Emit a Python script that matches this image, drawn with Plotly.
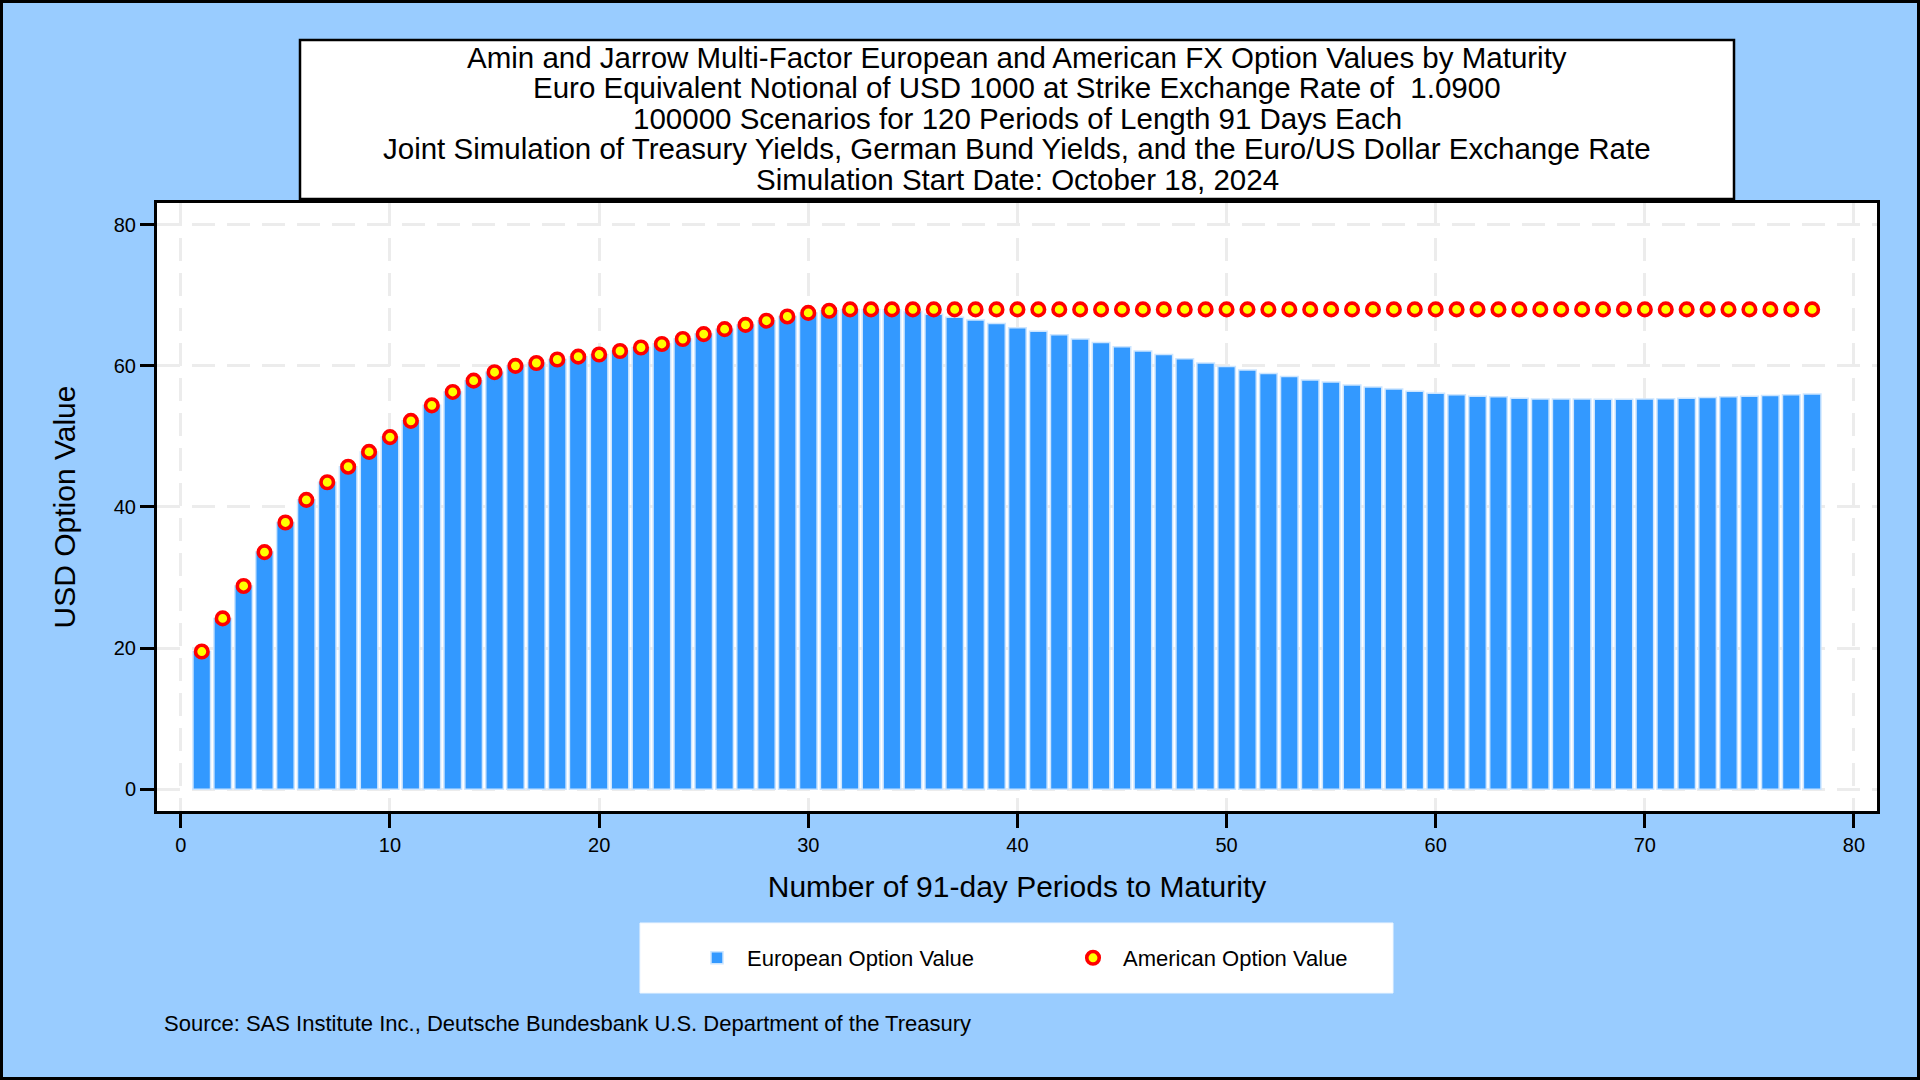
import plotly.graph_objects as go

# ---------------- data ----------------
periods = list(range(1, 79))

american_values = [
    19.5, 24.2, 28.8, 33.6, 37.8, 41.0, 43.5, 45.7, 47.8, 49.9,
    52.2, 54.4, 56.3, 57.9, 59.1, 60.0, 60.4, 60.9, 61.3, 61.6,
    62.1, 62.6, 63.1, 63.8, 64.5, 65.2, 65.8, 66.4, 67.0, 67.5,
    67.8, 68.0, 68.0, 68.0, 68.0, 68.0, 68.0, 68.0, 68.0, 68.0,
    68.0, 68.0, 68.0, 68.0, 68.0, 68.0, 68.0, 68.0, 68.0, 68.0,
    68.0, 68.0, 68.0, 68.0, 68.0, 68.0, 68.0, 68.0, 68.0, 68.0,
    68.0, 68.0, 68.0, 68.0, 68.0, 68.0, 68.0, 68.0, 68.0, 68.0,
    68.0, 68.0, 68.0, 68.0, 68.0, 68.0, 68.0, 68.0,
]

european_values = [
    19.5, 24.2, 28.8, 33.6, 37.8, 41.0, 43.5, 45.7, 47.8, 49.9,
    52.2, 54.4, 56.3, 57.9, 59.1, 60.0, 60.4, 60.9, 61.3, 61.6,
    62.1, 62.6, 63.1, 63.8, 64.5, 65.2, 65.8, 66.4, 67.0, 67.5,
    67.8, 68.0, 68.0, 67.9, 67.7, 67.3, 66.9, 66.5, 66.0, 65.4,
    64.9, 64.4, 63.8, 63.3, 62.7, 62.1, 61.6, 61.0, 60.4, 59.9,
    59.4, 58.9, 58.5, 58.0, 57.7, 57.3, 57.0, 56.7, 56.4, 56.1,
    55.9, 55.7, 55.6, 55.4, 55.3, 55.3, 55.3, 55.25, 55.25, 55.3,
    55.35, 55.4, 55.5, 55.6, 55.7, 55.8, 55.9, 56.0,
]

x_ticks = [0, 10, 20, 30, 40, 50, 60, 70, 80]
y_ticks = [0, 20, 40, 60, 80]

title_lines = [
    "Amin and Jarrow Multi-Factor European and American FX Option Values by Maturity",
    "Euro Equivalent Notional of USD 1000 at Strike Exchange Rate of \u00a01.0900",
    "100000 Scenarios for 120 Periods of Length 91 Days Each",
    "Joint Simulation of Treasury Yields, German Bund Yields, and the Euro/US Dollar Exchange Rate",
    "Simulation Start Date: October 18, 2024",
]
source_text = "Source: SAS Institute Inc., Deutsche Bundesbank U.S. Department of the Treasury"

# ---------------- layout helpers (pixel -> paper) ----------------
W, H = 1920, 1080
def px(x):
    return x / W
def py(y):
    return 1 - y / H

FONT = "Liberation Sans, Arial, sans-serif"
BG = "#99ccff"

fig = go.Figure()

fig.add_trace(go.Bar(
    x=periods, y=european_values, name="European Option Value",
    width=0.84,
    marker=dict(color="#3399ff", line=dict(color="#cce5ff", width=1.5)),
))

fig.add_trace(go.Scatter(
    x=periods, y=american_values, name="American Option Value",
    mode="markers",
    marker=dict(symbol="circle", size=12.5, color="#ffff00",
                line=dict(color="#ff0000", width=3.6)),
))

shapes = [
    # outer frame
    dict(type="rect", xref="paper", yref="paper",
         x0=px(1.5), x1=px(W - 1.5), y0=py(H - 1.5), y1=py(1.5),
         line=dict(color="black", width=3), fillcolor="rgba(0,0,0,0)", layer="below"),
    # title box
    dict(type="rect", xref="paper", yref="paper",
         x0=px(300), x1=px(1734), y0=py(199), y1=py(40),
         line=dict(color="black", width=2.5), fillcolor="white", layer="below"),
    # legend box
    dict(type="rect", xref="paper", yref="paper",
         x0=px(640), x1=px(1393), y0=py(993), y1=py(923),
         line=dict(color="#eef6ff", width=1), fillcolor="white", layer="below"),
]

annotations = []
title_y = [57, 87.5, 118, 148.5, 179.5]
for txt, yy in zip(title_lines, title_y):
    annotations.append(dict(
        text=txt, xref="paper", yref="paper", x=px(1017), y=py(yy),
        xanchor="center", yanchor="middle", showarrow=False,
        font=dict(family=FONT, size=29.5, color="black"),
    ))
annotations.append(dict(
    text=source_text, xref="paper", yref="paper", x=px(162), y=py(1023),
    xanchor="left", yanchor="middle", showarrow=False,
    font=dict(family=FONT, size=22, color="black"),
))

axis_common = dict(
    showline=True, linecolor="black", linewidth=3, mirror=True,
    ticks="outside", ticklen=14, tickwidth=2.5, tickcolor="black",
    showgrid=True, gridcolor="#ececec", gridwidth=3, griddash="23px,12px",
    zeroline=False,
    tickfont=dict(family=FONT, size=20, color="black"),
)

fig.update_layout(
    width=W, height=H, autosize=False,
    margin=dict(l=0, r=0, t=0, b=0),
    paper_bgcolor=BG, plot_bgcolor="white",
    font=dict(family=FONT, color="black"),
    xaxis=dict(
        domain=[px(157), px(1877)],
        range=[-1.14, 81.1], tickmode="array", tickvals=x_ticks,
        title=dict(text="Number of 91-day Periods to Maturity",
                   font=dict(family=FONT, size=30, color="black"), standoff=21),
        **axis_common,
    ),
    yaxis=dict(
        domain=[py(811), py(203)],
        range=[-3.1, 83.08], tickmode="array", tickvals=y_ticks,
        title=dict(text="USD Option Value",
                   font=dict(family=FONT, size=30, color="black"), standoff=30),
        **axis_common,
    ),
    showlegend=True,
    legend=dict(
        orientation="h", x=px(687), xanchor="left", y=py(958), yanchor="middle",
        bgcolor="rgba(0,0,0,0)", borderwidth=0,
        itemwidth=50, entrywidth=311,
        font=dict(family=FONT, size=22, color="black"),
    ),
    bargap=0.16,
    shapes=shapes,
    annotations=annotations,
)

fig.write_html("out.html",
               config={"displayModeBar": False},
               post_script="document.body.style.margin='0';document.body.style.overflow='hidden';")
